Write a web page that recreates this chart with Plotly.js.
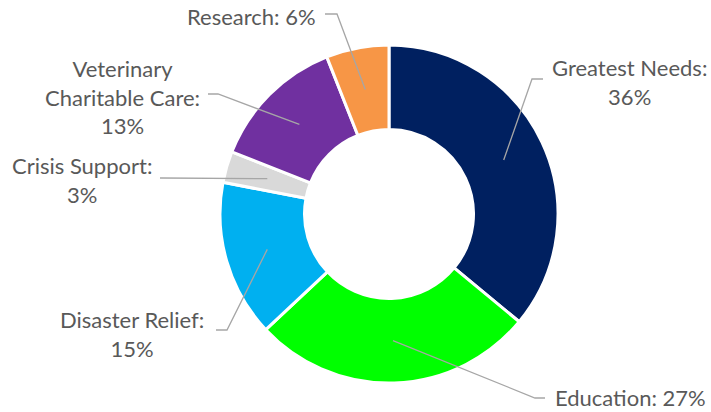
<!DOCTYPE html>
<html>
<head>
<meta charset="utf-8">
<script src="https://cdn.plot.ly/plotly-3.0.1.min.js"></script>
<style>html,body{margin:0;padding:0;background:#fff;}#chart{width:711px;height:412px;}</style>
</head>
<body>
<div id="chart"></div>
<script>
// ---- data ----
const categories = ['Greatest Needs', 'Education', 'Disaster Relief', 'Crisis Support', 'Veterinary Charitable Care', 'Research'];
const shares = [36, 27, 15, 3, 13, 6];
const sliceColors = ['#002060', '#00FF00', '#00B0F0', '#D9D9D9', '#7030A0', '#F79646'];
// how each label is wrapped (name text, separator before value)
const wrappedNames = ['Greatest Needs', 'Education', 'Disaster Relief', 'Crisis Support', 'Veterinary<br>Charitable Care', 'Research'];
const valueSeparators = ['<br>', ' ', '<br>', '<br>', '<br>', ' '];

// ---- layout (pixels, y downward) ----
const W = 711, H = 412;
const CX = 389, CY = 214, R = 169, HOLE = 0.5;
// label centres and leader-line bend/end points
const labelPos = [[629, 82], [630, 397], [132, 334], [82, 180], [122, 97], [251, 17]];
const leaderBend = [[532, 79], [535, 398], [227, 330], [162, 178], [218, 94], [337, 14]];
const leaderEnd = [[543, 79], [545, 398], [216, 330], [160, 178], [208, 94], [325, 14]];

const px = x => x / W;
const py = y => 1 - y / H;

const total = shares.reduce((a, b) => a + b, 0);
const rMid = R * (1 + HOLE) / 2;
let cum = 0;
const anchors = shares.map(v => {
  const mid = (cum + v / 2) / total * 2 * Math.PI;
  cum += v;
  return [CX + rMid * Math.sin(mid), CY - rMid * Math.cos(mid)];
});

const shapes = categories.map((c, i) => {
  const a = anchors[i], b = leaderBend[i], e = leaderEnd[i];
  return {
    type: 'path', xref: 'paper', yref: 'paper', layer: 'above',
    path: `M ${px(a[0])},${py(a[1])} L ${px(b[0])},${py(b[1])} L ${px(e[0])},${py(e[1])}`,
    line: {color: '#A6A6A6', width: 1.3}
  };
});

const annotations = categories.map((c, i) => ({
  xref: 'paper', yref: 'paper', x: px(labelPos[i][0]), y: py(labelPos[i][1]),
  xanchor: 'center', yanchor: 'middle', align: 'center', showarrow: false,
  borderpad: 0,
  text: wrappedNames[i] + ':' + valueSeparators[i] + shares[i] + '%',
  font: {family: 'Lato, sans-serif', size: 22, color: '#595959'}
}));

const trace = {
  type: 'pie',
  labels: categories,
  values: shares,
  hole: HOLE,
  sort: false,
  direction: 'clockwise',
  rotation: 0,
  textinfo: 'none',
  hoverinfo: 'label+percent',
  marker: {colors: sliceColors, line: {color: '#FFFFFF', width: 3}},
  domain: {x: [px(CX - R), px(CX + R)], y: [py(CY + R), py(CY - R)]}
};

const layout = {
  width: W, height: H,
  margin: {l: 0, r: 0, t: 0, b: 0},
  showlegend: false,
  paper_bgcolor: '#FFFFFF',
  shapes: shapes,
  annotations: annotations
};

Plotly.newPlot('chart', [trace], layout, {displayModeBar: false, staticPlot: true});
</script>
</body>
</html>
